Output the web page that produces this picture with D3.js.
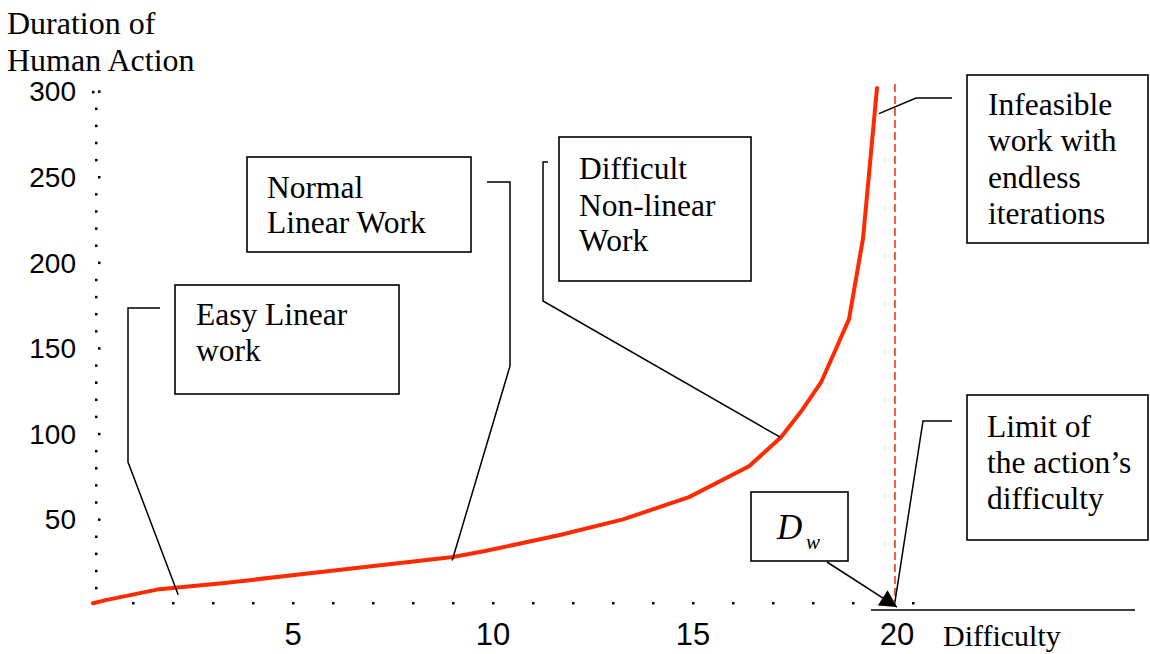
<!DOCTYPE html>
<html>
<head>
<meta charset="utf-8">
<script src="https://cdn.jsdelivr.net/npm/d3@7"></script>
<style>
  body { margin: 0; background: #fff; }
  svg { display: block; }
</style>
</head>
<body>
<div id="chart"></div>
<script>
// values: difficulty (x) vs duration of human action (y)
const difficulty = [0, 0.35, 1.6, 3.35, 5.2, 9, 9.8, 11.7, 13.25, 14.9, 16.4, 17.2, 17.7, 18.2, 18.6, 18.9, 19.25, 19.6];
const duration   = [1, 3, 9, 13, 18, 28, 31.5, 41, 50, 63, 81, 98, 113, 130, 151, 167, 214, 302];

const xTicks = [5, 10, 15, 20];
const yTicks = [50, 100, 150, 200, 250, 300];
const limitDifficulty = 20.05;

// text of the callout boxes
const easyText = ["Easy Linear", "work"];
const normalText = ["Normal", "Linear Work"];
const difficultText = ["Difficult", "Non-linear", "Work"];
const infeasibleText = ["Infeasible", "work with", "endless", "iterations"];
const limitText = ["Limit of", "the action\u2019s", "difficulty"];

// where each leader line touches the chart (data units)
const easyPoint = [2.13, 6];
const normalPoint = [8.98, 26];
const difficultPoint = [17.18, 98];
const infeasiblePoint = [19.65, 287];
const limitPoint = [20.05, 2];
const dwPoint = [20.1, -1.2];

const width = 1150, height = 654;

const svg = d3.select("#chart")
  .append("svg")
  .attr("width", width)
  .attr("height", height);

const x = d3.scaleLinear().domain([0, 20]).range([93, 893]);
const y = d3.scaleLinear().domain([0, 300]).range([605, 91.4]);

const serif = "'Liberation Serif', 'Times New Roman', serif";
const sans = "'Liberation Sans', Arial, sans-serif";

// dotted y axis (a dot every 10 units)
svg.append("g")
  .selectAll("rect")
  .data(d3.range(10, 301, 10))
  .join("rect")
    .attr("x", d => d % 50 === 0 ? 98 : 95)
    .attr("y", d => y(d) - 1)
    .attr("width", 2.5)
    .attr("height", 2.5)
    .attr("fill", "#000");
svg.append("rect").attr("x", 92).attr("y", y(300) - 0.5).attr("width", 2.5).attr("height", 2.5).attr("fill", "#000");

// dotted x axis (a dot every unit)
svg.append("g")
  .selectAll("rect")
  .data(d3.range(1, 21).concat([20.5]))
  .join("rect")
    .attr("x", d => x(d) - 1)
    .attr("y", 602)
    .attr("width", 2.5)
    .attr("height", 2.5)
    .attr("fill", "#000");

// solid piece of the base line on the right
svg.append("line")
  .attr("x1", 871).attr("x2", 1135)
  .attr("y1", 610).attr("y2", 610)
  .attr("stroke", "#000")
  .attr("stroke-width", 1.5);

// tick labels
svg.append("g")
  .selectAll("text")
  .data(yTicks)
  .join("text")
    .attr("x", 76)
    .attr("y", d => y(d))
    .attr("dy", "0.36em")
    .attr("text-anchor", "end")
    .style("font-family", sans)
    .style("font-size", "28px")
    .text(d => d);

svg.append("g")
  .selectAll("text")
  .data(xTicks)
  .join("text")
    .attr("x", d => x(d) + (d === 20 ? 4 : 0))
    .attr("y", 645)
    .attr("text-anchor", "middle")
    .style("font-family", sans)
    .style("font-size", "31px")
    .text(d => d);

// axis titles
svg.append("text")
  .attr("x", 7)
  .attr("y", 34)
  .style("font-family", serif)
  .style("font-size", "32px")
  .text("Duration of");
svg.append("text")
  .attr("x", 7)
  .attr("y", 71)
  .style("font-family", serif)
  .style("font-size", "32px")
  .text("Human Action");
svg.append("text")
  .attr("x", 943)
  .attr("y", 646)
  .style("font-family", serif)
  .style("font-size", "30px")
  .text("Difficulty");

// limit of difficulty (dashed red)
svg.append("line")
  .attr("x1", x(limitDifficulty)).attr("x2", x(limitDifficulty))
  .attr("y1", 84).attr("y2", y(0))
  .attr("stroke", "#ff3311")
  .attr("stroke-width", 1.6)
  .attr("stroke-dasharray", "8,4");

// the curve
const points = difficulty.map((d, i) => [d, duration[i]]);
svg.append("path")
  .datum(points)
  .attr("d", d3.line()
    .x(d => x(d[0]))
    .y(d => y(d[1])))
  .attr("fill", "none")
  .attr("stroke", "#ff2a00")
  .attr("stroke-width", 4)
  .attr("stroke-linejoin", "round")
  .attr("stroke-linecap", "round");

// leader lines: pixel elbows then a point on the chart
function leader(elbows, pt) {
  const pts = elbows.concat([[x(pt[0]), y(pt[1])]]);
  svg.append("path")
    .attr("d", d3.line()(pts))
    .attr("fill", "none")
    .attr("stroke", "#000")
    .attr("stroke-width", 1.5);
}
leader([[160, 308], [128, 308], [128, 462]], easyPoint);
leader([[487, 182], [510, 182], [510, 366]], normalPoint);
leader([[548, 162], [543, 162], [543, 301]], difficultPoint);
leader([[952, 98], [916, 98]], infeasiblePoint);
leader([[952, 421], [923, 421]], limitPoint);
leader([[827, 562]], dwPoint);

// arrow head on the D_w leader
const tip = [x(dwPoint[0]), y(dwPoint[1])];
const ang = Math.atan2(tip[1] - 562, tip[0] - 827);
const back = [tip[0] - 17 * Math.cos(ang), tip[1] - 17 * Math.sin(ang)];
const px = -Math.sin(ang) * 9, py = Math.cos(ang) * 9;
svg.append("path")
  .attr("d", d3.line()([tip, [back[0] + px, back[1] + py], [back[0] - px, back[1] - py]]) + "Z")
  .attr("fill", "#000");

// callout boxes
function box(bx, by, bw, bh, lines, tx, baselines) {
  const g = svg.append("g");
  g.append("rect")
    .attr("x", bx).attr("y", by)
    .attr("width", bw).attr("height", bh)
    .attr("fill", "#fff")
    .attr("stroke", "#000")
    .attr("stroke-width", 1.6);
  g.selectAll("text")
    .data(lines)
    .join("text")
      .attr("x", tx)
      .attr("y", (d, i) => baselines[i])
      .style("font-family", serif)
      .style("font-size", "31.5px")
      .text(d => d);
}
box(175, 285, 224, 109, easyText, 196, [325, 361]);
box(247, 157, 224, 95, normalText, 267, [198, 233]);
box(559, 137, 192, 144, difficultText, 579, [179, 216, 251]);
box(967, 75, 181, 168, infeasibleText, 988, [115, 151, 188, 224]);
box(967, 395, 181, 145, limitText, 987, [437, 473, 509]);

// D_w box
svg.append("rect")
  .attr("x", 751).attr("y", 492)
  .attr("width", 97).attr("height", 69)
  .attr("fill", "#fff")
  .attr("stroke", "#000")
  .attr("stroke-width", 1.6);
svg.append("text")
  .attr("x", 777)
  .attr("y", 539)
  .style("font-family", serif)
  .style("font-size", "35px")
  .style("font-style", "italic")
  .text("D");
svg.append("text")
  .attr("x", 806)
  .attr("y", 549)
  .style("font-family", serif)
  .style("font-size", "21px")
  .style("font-style", "italic")
  .text("w");
</script>
</body>
</html>
